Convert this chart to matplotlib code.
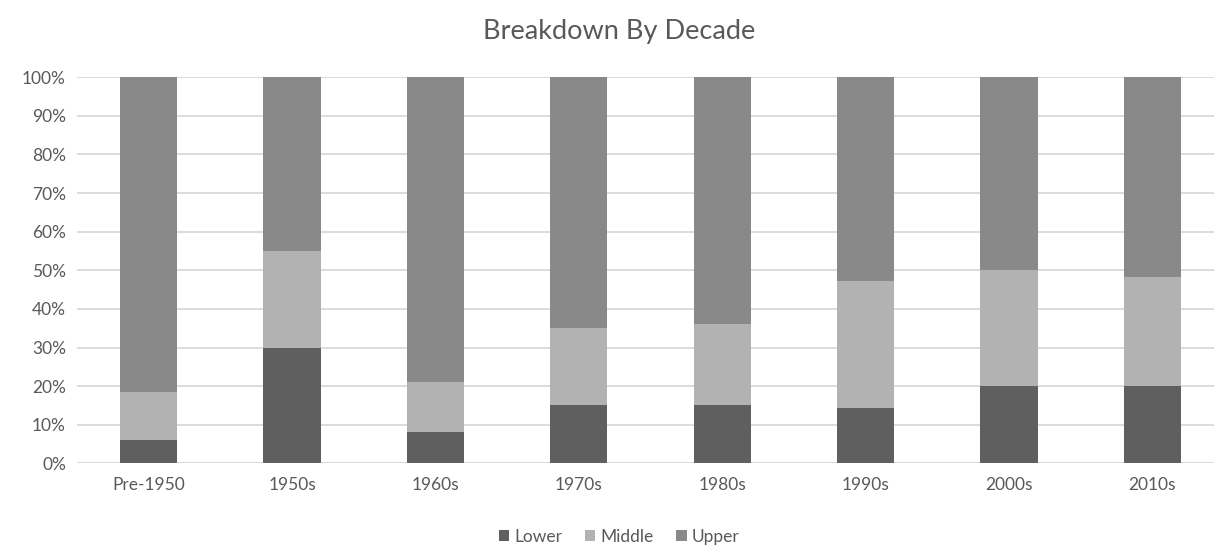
import numpy as np
import matplotlib.pyplot as plt
import matplotlib as mpl
from matplotlib.ticker import PercentFormatter

# data (percent share per decade)
decades = ['Pre-1950', '1950s', '1960s', '1970s', '1980s', '1990s', '2000s', '2010s']
lower = [6, 30, 8, 15, 15, 14.3, 20, 20]
middle = [12.5, 25, 13, 20, 21, 33, 30, 28.2]
upper = [100 - l - m for l, m in zip(lower, middle)]

COLORS = {'Lower': '#5f5f5f', 'Middle': '#b2b2b2', 'Upper': '#898989'}
TEXT = '#595959'

mpl.rcParams['font.family'] = ['Lato', 'DejaVu Sans']

fig = plt.figure(figsize=(12.14, 5.46), dpi=100)
ax = fig.add_axes([77 / 1214, 82.7 / 546, (1224 - 77) / 1214, 386 / 546])

x = np.arange(len(decades))
w = 0.40
ax.bar(x, lower, w, color=COLORS['Lower'], label='Lower', zorder=3)
ax.bar(x, middle, w, bottom=lower, color=COLORS['Middle'], label='Middle', zorder=3)
bottom2 = [l + m for l, m in zip(lower, middle)]
ax.bar(x, upper, w, bottom=bottom2, color=COLORS['Upper'], label='Upper', zorder=3)

ax.set_xlim(-0.5, len(decades) - 0.5)
ax.set_ylim(0, 100)
ax.set_yticks(np.arange(0, 101, 10))
ax.yaxis.set_major_formatter(PercentFormatter(decimals=0))
ax.set_xticks(x)
ax.set_xticklabels(decades)
ax.tick_params(length=0, labelsize=12.5, colors=TEXT, pad=10)
ax.tick_params(axis='y', pad=8)
ax.grid(axis='y', color='#d9d9d9', linewidth=1.3, zorder=0)
for s in ax.spines.values():
    s.set_visible(False)

fig.text(0.51, 0.942, 'Breakdown By Decade', ha='center', va='center',
         fontsize=19.5, color=TEXT)

fig.legend(loc='center', bbox_to_anchor=(0.51, 0.017), ncol=3, frameon=False,
           fontsize=12.5, labelcolor=TEXT, handlelength=0.6, handleheight=0.6,
           handletextpad=0.3, columnspacing=1.3)

fig.savefig('out.png', dpi=100, facecolor='white')
